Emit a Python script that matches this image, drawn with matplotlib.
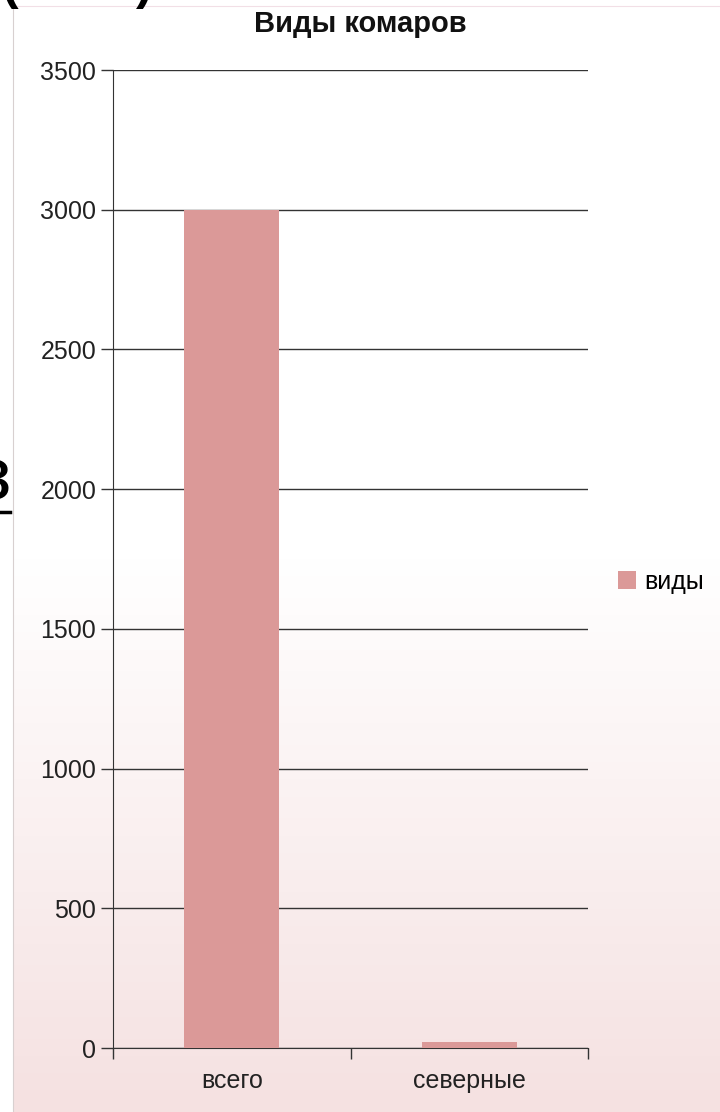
import matplotlib.pyplot as plt
import numpy as np
from matplotlib.colors import LinearSegmentedColormap

# ====== DATA ======
categories = ['всего', 'северные']
species = [3000, 20]
series_name = 'виды'
title = 'Виды комаров'
yticks = [0, 500, 1000, 1500, 2000, 2500, 3000, 3500]

plt.rcParams['font.family'] = ['Liberation Sans', 'DejaVu Sans']

W, H = 720, 1112
fig = plt.figure(figsize=(W / 100, H / 100), dpi=100)
fig.patch.set_facecolor('white')

# ====== BACKGROUND PANEL (white -> pink gradient) ======
bg = fig.add_axes([13 / W, 0, 707 / W, 1106 / H], zorder=-2)
grad_cmap = LinearSegmentedColormap.from_list(
    'g', [(0, '#f5e1e1'), (0.5, '#ffffff'), (1, '#ffffff')])
bg.imshow(np.linspace(0, 1, 256).reshape(-1, 1), aspect='auto',
          cmap=grad_cmap, origin='lower', extent=[0, 1, 0, 1])
bg.set_xticks([])
bg.set_yticks([])
for s in ['right', 'bottom']:
    bg.spines[s].set_visible(False)
bg.spines['left'].set_color('#d8d0d0')
bg.spines['top'].set_color('#f2dfe6')

# fragments of the slide behind the chart
fig.text(11 / W, 1 - 480 / H, 'з', fontsize=54, ha='right', va='center')
fig.add_artist(plt.Line2D([0, 10 / W], [1 - 512 / H] * 2, color='black', lw=2.5))
fig.text(18 / W, 1 + 14 / H, '(', fontsize=36, ha='right', va='center', fontweight='bold')
fig.text(136 / W, 1 + 14 / H, ')', fontsize=36, ha='left', va='center', fontweight='bold')

# ====== BAR CHART ======
ax = fig.add_axes([113 / W, 64 / H, 475 / W, 978 / H])
ax.set_facecolor('none')
x = np.arange(len(categories))
ax.bar(x, species, width=0.4, color='#db9998', label=series_name, zorder=3)

ax.set_xlim(-0.5, len(categories) - 0.5)
ax.set_ylim(0, 3500)
ax.set_yticks(yticks)
ax.tick_params(axis='y', length=9, width=1, color='#333333', labelsize=18,
               labelcolor='#222222', pad=3)
ax.grid(axis='y', color='#333333', lw=1, zorder=1)

ax.set_xticks(x)
ax.set_xticklabels(categories)
ax.set_xticks(np.arange(-0.5, len(categories)), minor=True)
ax.tick_params(axis='x', which='major', length=0, labelsize=18, pad=15,
               labelcolor='#222222')
ax.tick_params(axis='x', which='minor', length=8, width=1, color='#333333')

for s in ['top', 'right']:
    ax.spines[s].set_visible(False)
ax.spines['left'].set_color('#333333')
ax.spines['bottom'].set_color('#333333')

fig.text(360 / W, 1 - 24 / H, title, fontsize=21, fontweight='bold',
         ha='center', va='center', color='#111111')

fig.legend(loc='center left', bbox_to_anchor=(595 / W, 1 - 582 / H),
           frameon=False, fontsize=18, handlelength=0.75, handleheight=0.75,
           handletextpad=0.3)

fig.savefig('out.png', dpi=100)
